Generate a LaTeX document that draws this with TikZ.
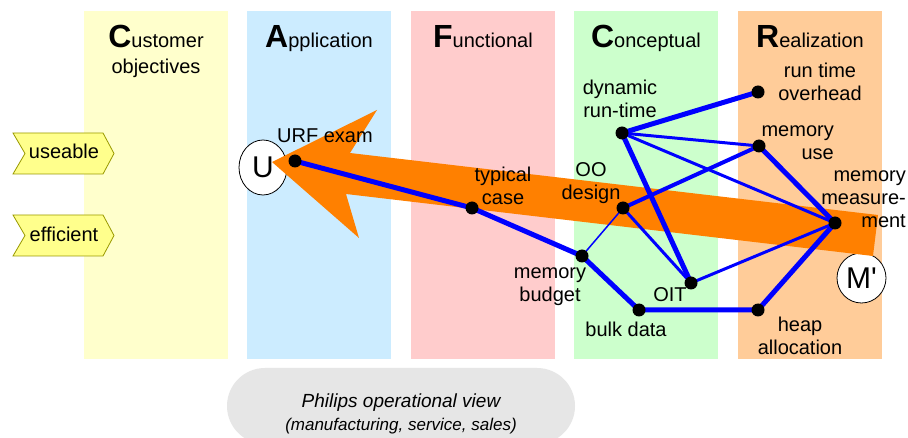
\documentclass[tikz,border=0pt]{standalone}
\usepackage{fontspec}
\setmainfont{Liberation Sans}
\newfontfamily\plainsans{Liberation Sans}
\usetikzlibrary{shapes.geometric}

\definecolor{colCust}{HTML}{FFFFCC}
\definecolor{colAppl}{HTML}{CCECFF}
\definecolor{colFunc}{HTML}{FFCCCC}
\definecolor{colConc}{HTML}{CCFFCC}
\definecolor{colReal}{HTML}{FFCC99}
\definecolor{tagFill}{HTML}{FFFF8C}
\definecolor{tagLine}{HTML}{999900}
\definecolor{arrowOrange}{HTML}{FF8000}
\definecolor{viewGray}{HTML}{E6E6E6}
\definecolor{linkBlue}{HTML}{0000FF}

% big initial letter of a column title
\newcommand\initial[1]{{\fontsize{32}{36}\selectfont\bfseries #1}}
% stacked label lines, first baseline is the node baseline
\newcommand\stackc[1]{\begin{tabular}[t]{@{}c@{}}#1\end{tabular}}
\newcommand\stackr[1]{\begin{tabular}[t]{@{}r@{}}#1\end{tabular}}

\begin{document}
\begin{tikzpicture}[x=1pt,y=-1pt,
  lbl/.style={inner sep=0pt,font=\fontsize{20}{23}\selectfont},
  coltitle/.style={inner sep=0pt,anchor=base,font=\fontsize{20}{26}\selectfont},
  tagtext/.style={inner sep=0pt,anchor=base,font=\fontsize{20}{23}\selectfont},
  viewpoint/.style={ellipse,draw=black,line width=0.8pt,fill=white,inner sep=0pt,
    font=\plainsans\fontsize{30}{32}\selectfont},
  dot/.style={circle,fill=black,inner sep=0pt,minimum size=13pt},
  thicklink/.style={draw=linkBlue,line width=5pt},
  boldlink/.style={draw=linkBlue,line width=4pt},
  midlink/.style={draw=linkBlue,line width=3pt},
  thinlink/.style={draw=linkBlue,line width=1.5pt},
  tag/.style={fill=tagFill,draw=tagLine,line width=0.8pt,line join=miter}]

\clip (0,0) rectangle (908,438);
\fill[white] (0,0) rectangle (908,438);

% the five CAFCR columns
\fill[colCust] (84,11) rectangle (228,359);
\fill[colAppl] (247,11) rectangle (391,359);
\fill[colFunc] (411,11) rectangle (555,359);
\fill[colConc] (574,11) rectangle (718,359);
\fill[colReal] (738,11) rectangle (882,359);

\node[coltitle] (tCust) at (156,48) {\initial{C}ustomer};
\node[coltitle] (tCust2) at (156,74) {objectives};
\node[coltitle] (tAppl) at (319,48) {\initial{A}pplication};
\node[coltitle] (tFunc) at (483,48) {\initial{F}unctional};
\node[coltitle] (tConc) at (646,48) {\initial{C}onceptual};
\node[coltitle] (tReal) at (810,48) {\initial{R}ealization};

% customer objective tags
\draw[tag] (13,133) -- (103,133) -- (114,153.5) -- (103,174) -- (13,174) -- (25,153.5) -- cycle;
\node[tagtext] (useable) at (64,159) {useable};
\draw[tag] (13,215) -- (103,215) -- (114,235.5) -- (103,256) -- (13,256) -- (25,235.5) -- cycle;
\node[tagtext] (efficient) at (64,242) {efficient};

% operational view
\fill[viewGray,rounded corners=38pt] (227,368) rectangle (575,444);
\node[inner sep=0pt,anchor=base,font=\itshape\fontsize{19}{22}\selectfont] (view) at (401,407) {Philips operational view};
\node[inner sep=0pt,anchor=base,font=\itshape\fontsize{17}{20}\selectfont] (view2) at (401,430) {(manufacturing, service, sales)};

% viewpoint circles
\node[viewpoint,minimum width=48pt,minimum height=55pt] (U) at (263,167.5) {U};
\node[viewpoint,minimum width=49pt,minimum height=50pt] (M) at (861.5,278) {M'};

% big reasoning arrow from measurement back to the user
\fill[arrowOrange] (272,162) -- (377,110) -- (350,153) -- (878,215) -- (873,256)
  -- (346,194) -- (359,238) -- cycle;

% points of the reasoning graph
\coordinate (urf)  at (295,161);
\coordinate (typ)  at (472,208);
\coordinate (oo)   at (623,208);
\coordinate (dyn)  at (622,133);
\coordinate (rto)  at (758,92);
\coordinate (mu)   at (759,146);
\coordinate (mm)   at (835,223);
\coordinate (mb)   at (582,256);
\coordinate (oit)  at (691,283);
\coordinate (bd)   at (639,310);
\coordinate (heap) at (758,310);

% links
\path[midlink] (dyn) -- (mu);
\path[midlink] (dyn) -- (mm);
\path[midlink] (oo) -- (oit);
\path[midlink] (oit) -- (mm);
\path[thinlink] (oo) -- (mb);
\path[boldlink] (oo) -- (mu);
\path[thicklink] (dyn) -- (rto);
\path[thicklink] (dyn) -- (oit);
\path[thicklink,line join=round] (urf) -- (typ) -- (mb) -- (bd) -- (heap) -- (mm) -- (mu);

\foreach \p in {urf,typ,oo,dyn,rto,mu,mm,mb,oit,bd,heap}
  \node[dot] (\p-dot) at (\p) {};

% labels
\node[lbl,anchor=base] (urfL) at (325,143) {URF exam};
\node[lbl,anchor=base] (typL) at (503,182) {\stackc{typical\\case}};
\node[lbl,anchor=base] (ooL) at (591,177) {\stackc{OO\\design}};
\node[lbl,anchor=base] (dynL) at (620,95) {\stackc{dynamic\\run-time}};
\node[lbl,anchor=base] (rtoL) at (820,78) {\stackc{run time\\overhead}};
\node[lbl,anchor=base east] (muL) at (834,137) {\stackr{memory\\use}};
\node[lbl,anchor=base east] (mmL) at (906,182) {\stackr{memory\\measure-\\ment}};
\node[lbl,anchor=base] (mbL) at (550,279) {\stackc{memory\\budget}};
\node[lbl,anchor=base] (oitL) at (670,302) {OIT};
\node[lbl,anchor=base] (bdL) at (626,337) {bulk data};
\node[lbl,anchor=base] (heapL) at (800,332) {\stackc{heap\\allocation}};
\end{tikzpicture}
\end{document}
